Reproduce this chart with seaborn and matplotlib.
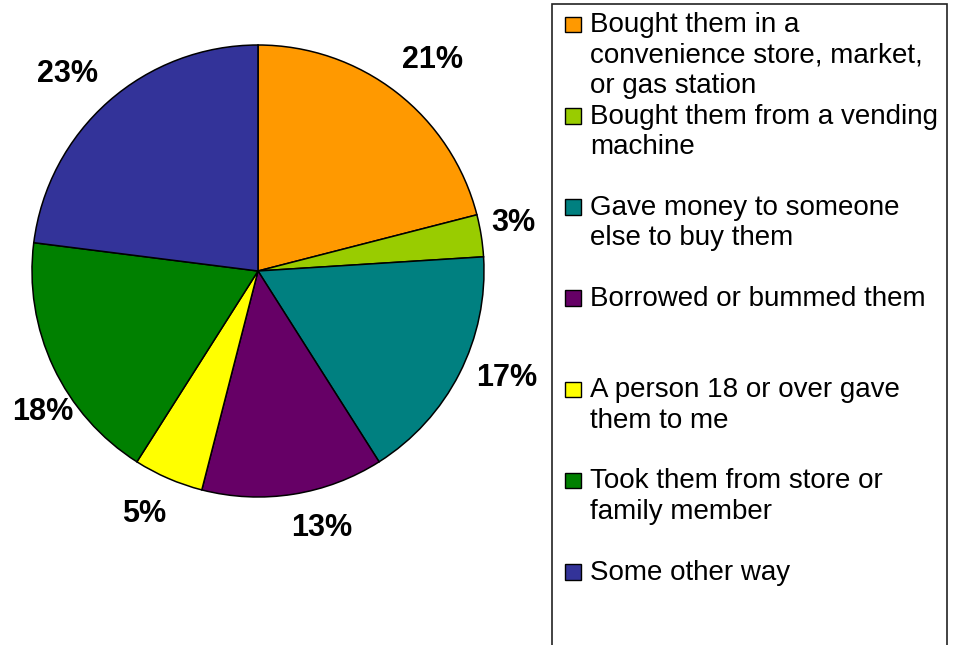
import matplotlib
matplotlib.use("Agg")
import matplotlib.pyplot as plt
from matplotlib.patches import Rectangle
import seaborn as sns

# data
labels = [
    "Bought them in a\nconvenience store, market,\nor gas station",
    "Bought them from a vending\nmachine",
    "Gave money to someone\nelse to buy them",
    "Borrowed or bummed them",
    "A person 18 or over gave\nthem to me",
    "Took them from store or\nfamily member",
    "Some other way",
]
shares = [21, 3, 17, 13, 5, 18, 23]
colors = ["#FF9900", "#99CC00", "#008080", "#660066", "#FFFF00", "#008000", "#333399"]

# small hand nudges (pixels, x right / y down) so the % labels sit like Excel's
label_nudge = [(10, 2), (-10, -6), (9, -15), (22, -9), (-7, -4), (28, 26), (-13, 5)]

sns.set_theme(style="white")
plt.rcParams["font.family"] = ["Liberation Sans", "DejaVu Sans"]

W, H = 954, 645
fig = plt.figure(figsize=(W / 100, H / 100), dpi=100)

# pie axes, placed in pixels: centre (258, 271), radius 226
cx, cy, r = 258, 271, 226
lim = 1.3
half = lim * r
ax = fig.add_axes([(cx - half) / W, (H - cy - half) / H, 2 * half / W, 2 * half / H])
wedges, _, autotexts = ax.pie(
    shares, colors=colors, startangle=90, counterclock=False,
    autopct="%d%%", pctdistance=1.19,
    wedgeprops=dict(edgecolor="black", linewidth=1.1),
    textprops=dict(fontsize=22, fontweight="bold", color="black"),
)
for t, (dx, dy) in zip(autotexts, label_nudge):
    x, y = t.get_position()
    t.set_position((x + dx / r, y - dy / r))
ax.set_xlim(-lim, lim)
ax.set_ylim(-lim, lim)
ax.set_aspect("equal")
ax.axis("off")

# legend drawn in pixel coordinates
lg = fig.add_axes([0, 0, 1, 1], zorder=3)
lg.set_xlim(0, W)
lg.set_ylim(H, 0)
lg.axis("off")
lg.patch.set_alpha(0)
lg.add_patch(Rectangle((552, 4), 395, 700, facecolor="white", edgecolor="#222222", lw=1.2))

base0, entry_step, line_step = 32.3, 91.2, 30.4
for i, (lab, col) in enumerate(zip(labels, colors)):
    b = base0 + entry_step * i
    lg.add_patch(Rectangle((565, b - 15.5), 16, 15.5, facecolor=col, edgecolor="black", lw=1))
    for j, line in enumerate(lab.split("\n")):
        lg.text(590, b + j * line_step, line, fontsize=20, va="baseline", ha="left", color="black")

fig.savefig("out.png", dpi=100, facecolor="white")
